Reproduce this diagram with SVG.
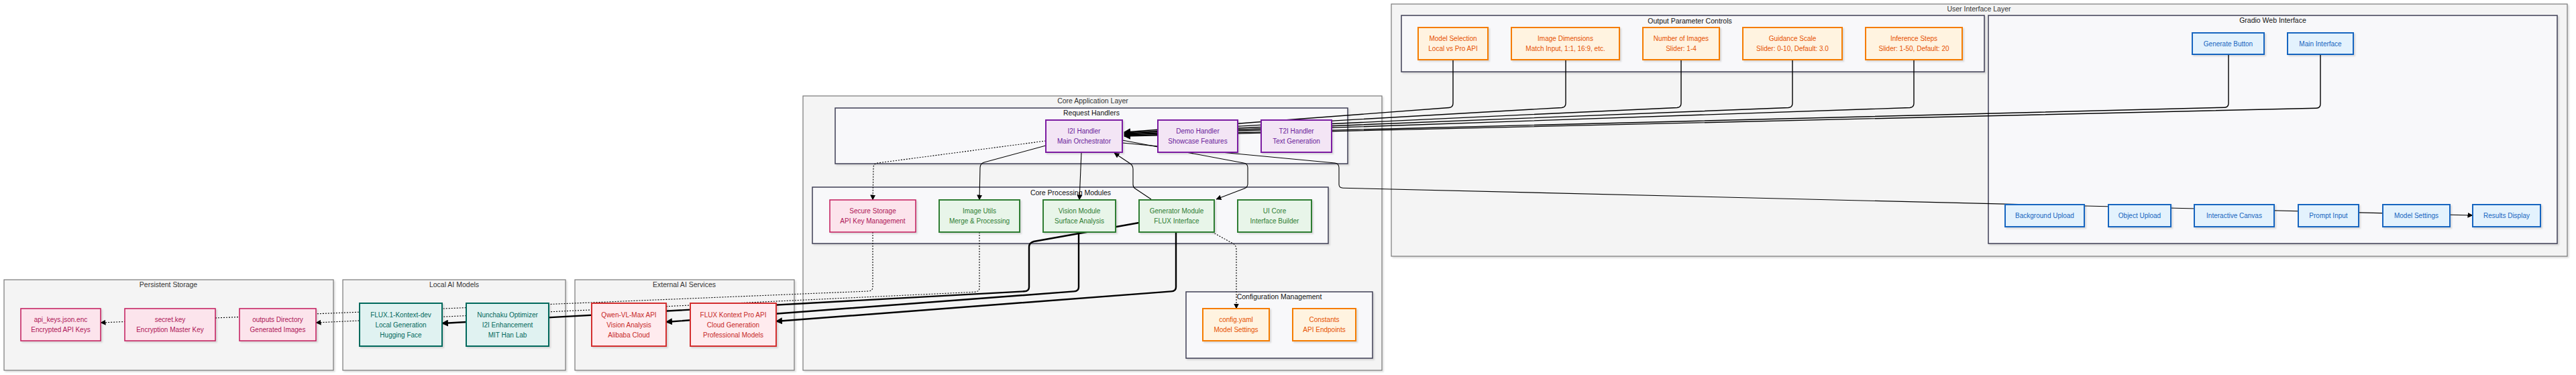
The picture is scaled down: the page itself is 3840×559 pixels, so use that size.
<svg xmlns="http://www.w3.org/2000/svg" width="3840" height="559" viewBox="0 0 3840 559">
<style>
text{font-family:"Liberation Sans",Arial,sans-serif;font-size:10px;text-anchor:middle;dominant-baseline:central}
.layer{fill:#f4f4f4;stroke:#777;stroke-width:1.2}
.sub{fill:#f8f8fa;stroke:#3f3f55;stroke-width:1.5}
.ct{fill:#333;font-size:10.5px}
.n rect{stroke-width:2}
.pink rect{fill:#fce4ec;stroke:#c2185b;stroke-width:1.5}.pink text{fill:#ad1457}
.teal rect{fill:#e0f2f1;stroke:#00695c}.teal text{fill:#00695c}
.red rect{fill:#ffebee;stroke:#d32f2f}.red text{fill:#c62828}
.purple rect{fill:#f3e5f5;stroke:#7b1fa2}.purple text{fill:#6a1b9a}
.green rect{fill:#e8f5e9;stroke:#2e7d32}.green text{fill:#2e7d32}
.orange rect{fill:#fff3e0;stroke:#f57c00}.orange text{fill:#e65100}
.blue rect{fill:#e3f2fd;stroke:#1565c0}.blue text{fill:#1565c0}
.e{fill:none;stroke:#000;stroke-width:1.1}
.eb{fill:none;stroke:#000;stroke-width:1.4}
.thick{fill:none;stroke:#000;stroke-width:2.4}
.dot{fill:none;stroke:#000;stroke-width:1.1;stroke-dasharray:2 2}
</style>
<defs>
<filter id="sh" x="-10%" y="-10%" width="130%" height="140%"><feDropShadow dx="2" dy="2" stdDeviation="1" flood-color="#000" flood-opacity="0.13"/></filter>
<marker id="a" markerUnits="userSpaceOnUse" markerWidth="8" markerHeight="8" refX="7.5" refY="4" orient="auto"><path d="M0,0 L8,4 L0,8 z" fill="#000"/></marker>
<marker id="at" markerUnits="userSpaceOnUse" markerWidth="10" markerHeight="10" refX="9" refY="5" orient="auto"><path d="M0,0 L10,5 L0,10 z" fill="#000"/></marker>
</defs>
<rect width="3840" height="559" fill="#fff"/>

<g id="clusters">
<g id="persistent-storage"><rect class="layer" x="6" y="417" width="491" height="135" filter="url(#sh)"/><text class="ct" x="251" y="424">Persistent Storage</text></g>
<g id="local-ai-models"><rect class="layer" x="511" y="417" width="332" height="135" filter="url(#sh)"/><text class="ct" x="677" y="424">Local AI Models</text></g>
<g id="external-ai-services"><rect class="layer" x="857" y="417" width="327" height="135" filter="url(#sh)"/><text class="ct" x="1020" y="424">External AI Services</text></g>
<g id="core-application-layer"><rect class="layer" x="1197" y="143" width="863" height="409" filter="url(#sh)"/><text class="ct" x="1629" y="150">Core Application Layer</text></g>
<g id="request-handlers"><rect class="sub" x="1245" y="161" width="764" height="83" filter="url(#sh)"/><text class="ct" x="1627" y="168" style="fill:#111">Request Handlers</text></g>
<g id="core-processing-modules"><rect class="sub" x="1211" y="279" width="769" height="84" filter="url(#sh)"/><text class="ct" x="1596" y="287" style="fill:#111">Core Processing Modules</text></g>
<g id="configuration-management"><rect class="sub" x="1768" y="435" width="278" height="99" filter="url(#sh)"/><text class="ct" x="1907" y="442" style="fill:#111">Configuration Management</text></g>
<g id="user-interface-layer"><rect class="layer" x="2074" y="6" width="1753" height="376" filter="url(#sh)"/><text class="ct" x="2950" y="13">User Interface Layer</text></g>
<g id="output-parameter-controls"><rect class="sub" x="2089" y="23" width="869" height="84" filter="url(#sh)"/><text class="ct" x="2519" y="31" style="fill:#111">Output Parameter Controls</text></g>
<g id="gradio-web-interface"><rect class="sub" x="2964" y="23" width="848" height="340" filter="url(#sh)"/><text class="ct" x="3388" y="30" style="fill:#111">Gradio Web Interface</text></g>
</g>

<g id="connectors">
<path class="eb" marker-end="url(#at)" d="M2166,89 L2166,154 Q2166,160 2160,160.5 L1676,197"/>
<path class="eb" marker-end="url(#at)" d="M2334,89 L2334,154 Q2334,160 2328,160.5 L1676,198"/>
<path class="eb" marker-end="url(#at)" d="M2506,89 L2506,154 Q2506,160 2500,160.5 L1676,199"/>
<path class="eb" marker-end="url(#at)" d="M2672,89 L2672,154 Q2672,160 2666,160.5 L1676,200"/>
<path class="eb" marker-end="url(#at)" d="M2853,89 L2853,154 Q2853,160 2847,160.5 L1676,201"/>
<path class="eb" marker-end="url(#at)" d="M3322,81 L3322,154 Q3322,160 3316,160.2 L1676,202"/>
<path class="eb" marker-end="url(#at)" d="M3459,81 L3459,155 Q3459,161 3453,161.2 L1676,203"/>
<path class="e" marker-end="url(#a)" d="M1673,213 L1990,243 Q1996,244 1996,250 L1996,275 Q1996,280 2002,280.2 L3686,321"/>
<path class="e" marker-end="url(#a)" d="M1673,209 L1854,243 Q1860,244 1860,250 L1860,274 Q1860,279 1855,281 L1813,297"/>
<path class="e" marker-end="url(#a)" d="M1716,297 L1692,281 Q1689,279 1689,275 L1689,252 Q1689,247 1685,244 L1661,228"/>
<path class="e" marker-end="url(#a)" d="M1612,227 L1609,298"/>
<path class="e" marker-end="url(#a)" d="M1559,217 L1467,242 Q1461,244 1461,250 L1460,298"/>
<path class="dot" marker-end="url(#a)" d="M1559,210 L1308,243 Q1302,244 1302,250 L1301,298"/>
<path class="dot" marker-end="url(#a)" d="M1807,346 L1838,363 Q1843,366 1843,372 L1843,460"/>
<path class="dot" marker-end="url(#a)" d="M1301,346 L1301,428 Q1301,433 1295,434 L150,481"/>
<path class="dot" marker-end="url(#a)" d="M1460,346 L1460,429 Q1460,435 1453,435.3 L471,481"/>
<path class="thick" marker-end="url(#at)" d="M1698,332 L1541,360 Q1534,362 1534,368 L1534,428 Q1534,434 1527,434.3 L659,482"/>
<path class="thick" marker-end="url(#at)" d="M1608,346 L1608,428 Q1608,434 1601,434.4 L993,480"/>
<path class="thick" marker-end="url(#at)" d="M1753,346 L1753,428 Q1753,434 1746,434.4 L1157,479"/>
</g>

<g id="nodes">
<g id="api-keys" class="n pink"><rect x="31" y="460" width="119" height="48" filter="url(#sh)"/><text x="90.5" y="476.5">api_keys.json.enc</text><text x="90.5" y="491.5">Encrypted API Keys</text></g>
<g id="secret-key" class="n pink"><rect x="186" y="460" width="135" height="48" filter="url(#sh)"/><text x="253.5" y="476.5">secret.key</text><text x="253.5" y="491.5">Encryption Master Key</text></g>
<g id="outputs-directory" class="n pink"><rect x="357" y="460" width="114" height="48" filter="url(#sh)"/><text x="414" y="476.5">outputs Directory</text><text x="414" y="491.5">Generated Images</text></g>
<g id="flux-kontext-dev" class="n teal"><rect x="536" y="452" width="123" height="64" filter="url(#sh)"/><text x="597.5" y="469">FLUX.1-Kontext-dev</text><text x="597.5" y="484">Local Generation</text><text x="597.5" y="499">Hugging Face</text></g>
<g id="nunchaku" class="n teal"><rect x="695" y="452" width="123" height="64" filter="url(#sh)"/><text x="756.5" y="469">Nunchaku Optimizer</text><text x="756.5" y="484">I2I Enhancement</text><text x="756.5" y="499">MIT Han Lab</text></g>
<g id="qwen-vl-max" class="n red"><rect x="882" y="452" width="111" height="64" filter="url(#sh)"/><text x="937.5" y="469">Qwen-VL-Max API</text><text x="937.5" y="484">Vision Analysis</text><text x="937.5" y="499">Alibaba Cloud</text></g>
<g id="flux-kontext-pro" class="n red"><rect x="1029" y="452" width="128" height="64" filter="url(#sh)"/><text x="1093" y="469">FLUX Kontext Pro API</text><text x="1093" y="484">Cloud Generation</text><text x="1093" y="499">Professional Models</text></g>
<g id="i2i-handler" class="n purple"><rect x="1559" y="179" width="114" height="48" filter="url(#sh)"/><text x="1616" y="195.5">I2I Handler</text><text x="1616" y="210.5">Main Orchestrator</text></g>
<g id="demo-handler" class="n purple"><rect x="1726" y="179" width="119" height="48" filter="url(#sh)"/><text x="1785.5" y="195.5">Demo Handler</text><text x="1785.5" y="210.5">Showcase Features</text></g>
<g id="t2i-handler" class="n purple"><rect x="1880" y="179" width="105" height="48" filter="url(#sh)"/><text x="1932.5" y="195.5">T2I Handler</text><text x="1932.5" y="210.5">Text Generation</text></g>
<g id="secure-storage" class="n pink"><rect x="1237" y="298" width="128" height="48" filter="url(#sh)"/><text x="1301" y="314.5">Secure Storage</text><text x="1301" y="329.5">API Key Management</text></g>
<g id="image-utils" class="n green"><rect x="1400" y="298" width="120" height="48" filter="url(#sh)"/><text x="1460" y="314.5">Image Utils</text><text x="1460" y="329.5">Merge &amp; Processing</text></g>
<g id="vision-module" class="n green"><rect x="1555" y="298" width="108" height="48" filter="url(#sh)"/><text x="1609" y="314.5">Vision Module</text><text x="1609" y="329.5">Surface Analysis</text></g>
<g id="generator-module" class="n green"><rect x="1698" y="298" width="112" height="48" filter="url(#sh)"/><text x="1754" y="314.5">Generator Module</text><text x="1754" y="329.5">FLUX Interface</text></g>
<g id="ui-core" class="n green"><rect x="1845" y="298" width="110" height="48" filter="url(#sh)"/><text x="1900" y="314.5">UI Core</text><text x="1900" y="329.5">Interface Builder</text></g>
<g id="config-yaml" class="n orange"><rect x="1793" y="460" width="99" height="48" filter="url(#sh)"/><text x="1842.5" y="476.5">config.yaml</text><text x="1842.5" y="491.5">Model Settings</text></g>
<g id="constants" class="n orange"><rect x="1927" y="460" width="94" height="48" filter="url(#sh)"/><text x="1974" y="476.5">Constants</text><text x="1974" y="491.5">API Endpoints</text></g>
<g id="model-selection" class="n orange"><rect x="2114" y="41" width="104" height="48" filter="url(#sh)"/><text x="2166" y="57.5">Model Selection</text><text x="2166" y="72.5">Local vs Pro API</text></g>
<g id="image-dimensions" class="n orange"><rect x="2253" y="41" width="161" height="48" filter="url(#sh)"/><text x="2333.5" y="57.5">Image Dimensions</text><text x="2333.5" y="72.5">Match Input, 1:1, 16:9, etc.</text></g>
<g id="number-of-images" class="n orange"><rect x="2449" y="41" width="114" height="48" filter="url(#sh)"/><text x="2506" y="57.5">Number of Images</text><text x="2506" y="72.5">Slider: 1-4</text></g>
<g id="guidance-scale" class="n orange"><rect x="2598" y="41" width="148" height="48" filter="url(#sh)"/><text x="2672" y="57.5">Guidance Scale</text><text x="2672" y="72.5">Slider: 0-10, Default: 3.0</text></g>
<g id="inference-steps" class="n orange"><rect x="2781" y="41" width="144" height="48" filter="url(#sh)"/><text x="2853" y="57.5">Inference Steps</text><text x="2853" y="72.5">Slider: 1-50, Default: 20</text></g>
<g id="generate-button" class="n blue"><rect x="3268" y="49" width="107" height="32" filter="url(#sh)"/><text x="3321.5" y="65">Generate Button</text></g>
<g id="main-interface" class="n blue"><rect x="3410" y="49" width="98" height="32" filter="url(#sh)"/><text x="3459" y="65">Main Interface</text></g>
<g id="background-upload" class="n blue"><rect x="2989" y="305" width="118" height="33" filter="url(#sh)"/><text x="3048" y="321.5">Background Upload</text></g>
<g id="object-upload" class="n blue"><rect x="3143" y="305" width="93" height="33" filter="url(#sh)"/><text x="3189.5" y="321.5">Object Upload</text></g>
<g id="interactive-canvas" class="n blue"><rect x="3271" y="305" width="119" height="33" filter="url(#sh)"/><text x="3330.5" y="321.5">Interactive Canvas</text></g>
<g id="prompt-input" class="n blue"><rect x="3426" y="305" width="90" height="33" filter="url(#sh)"/><text x="3471" y="321.5">Prompt Input</text></g>
<g id="model-settings" class="n blue"><rect x="3552" y="305" width="100" height="33" filter="url(#sh)"/><text x="3602" y="321.5">Model Settings</text></g>
<g id="results-display" class="n blue"><rect x="3686" y="305" width="101" height="33" filter="url(#sh)"/><text x="3736.5" y="321.5">Results Display</text></g>
</g>
</svg>
